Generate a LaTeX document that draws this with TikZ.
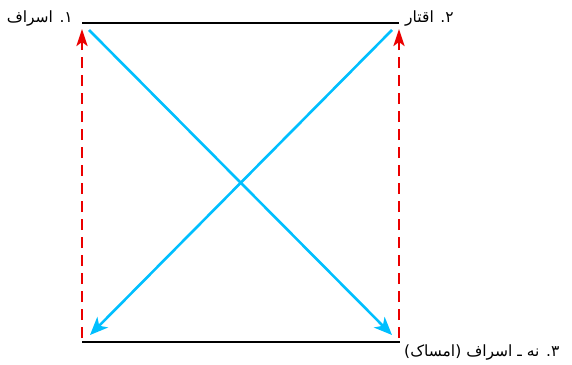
\documentclass[tikz,border=0pt]{standalone}
\usepackage{fontspec}
\newfontfamily\arabicfont[Script=Arabic]{DejaVu Sans}
\TeXXeTstate=1
\usetikzlibrary{arrows.meta}
\definecolor{crossblue}{RGB}{0,191,255}
\definecolor{dashred}{RGB}{235,0,0}
\tikzset{
  baseline/.style={line width=2.6pt, black},
  crossarrow/.style={line width=2.6pt, crossblue, -{Stealth[length=18pt,width=15pt,inset=5pt]}},
  backarrow/.style={line width=2.6pt, dashred, dash pattern=on 11pt off 7pt, -{Stealth[length=17pt,width=11pt,inset=4pt]}},
  label/.style={font=\arabicfont\fontsize{15.5}{18}\selectfont, inner sep=0pt}
}
\begin{document}
\begin{tikzpicture}[x=1pt,y=-1pt]
\useasboundingbox (0,0) rectangle (572,364);
% line endpoints
\coordinate (TL) at (82,23);
\coordinate (TR) at (399,23);
\coordinate (BL) at (82,342);
\coordinate (BR) at (400,342);
% arrow endpoints
\coordinate (redLs) at (82,338);
\coordinate (redLe) at (82,29);
\coordinate (redRs) at (399,338);
\coordinate (redRe) at (399,29);
\coordinate (b1s) at (89,30);
\coordinate (b1e) at (392,335);
\coordinate (b2s) at (392,30);
\coordinate (b2e) at (90,335);
\draw[baseline] (TL) -- (TR);
\draw[baseline] (BL) -- (BR);
\draw[backarrow] (redLs) -- (redLe);
\draw[backarrow] (redRs) -- (redRe);
\draw[crossarrow] (b1s) -- (b1e);
\draw[crossarrow] (b2s) -- (b2e);
\node[label, anchor=east] (l1) at (73,19) {\beginR ۱. اسراف\endR};
\node[label, anchor=west] (l2) at (405,19) {\beginR ۲. اقتار\endR};
\node[label, anchor=west] (l3) at (404,352) {\beginR ۳. نه ـ اسراف (امساک)\endR};
\end{tikzpicture}
\end{document}
